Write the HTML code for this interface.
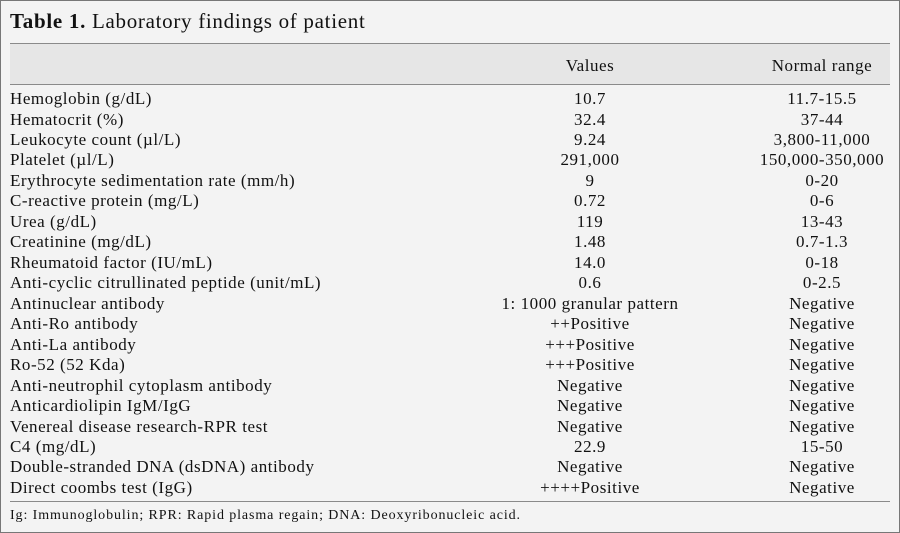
<!DOCTYPE html>
<html><head><style>
body{margin:0;width:900px;height:533px;background:#f3f3f3;font-family:"Liberation Serif",serif;color:#111;position:relative;overflow:hidden}
.frame{position:absolute;left:0;top:0;width:898px;height:531px;border:1px solid #777;}
.t{position:absolute;left:10px;top:9px;font-size:21px;letter-spacing:0.7px}
.band{position:absolute;left:10px;width:880px;top:43px;height:40px;background:#e6e6e6;border-top:1.5px solid #8a8a8a;border-bottom:1.5px solid #8a8a8a}
.hl{position:absolute;left:10px;width:880px;top:501px;border-top:1.5px solid #8a8a8a}
.r{position:absolute;left:10px;width:880px;height:20.47px;font-size:17px;letter-spacing:0.55px;line-height:20.47px;white-space:nowrap}
.r span{position:absolute}
.a{left:0}
.b{left:430px;width:300px;text-align:center}
.c{left:662px;width:300px;text-align:center}
.f{position:absolute;left:10px;top:508px;font-size:14px;letter-spacing:0.9px}
</style></head><body>
<div class="frame"></div>
<div class="t"><b>Table 1.</b> Laboratory findings of patient</div>
<div class="band"></div>
<div class="r" style="top:56px"><span class="b">Values</span><span class="c">Normal range</span></div>
<div class="r" style="top:89px"><span class="a">Hemoglobin (g/dL)</span><span class="b">10.7</span><span class="c">11.7-15.5</span></div>
<div class="r" style="top:109.5px"><span class="a">Hematocrit (%)</span><span class="b">32.4</span><span class="c">37-44</span></div>
<div class="r" style="top:130px"><span class="a">Leukocyte count (µl/L)</span><span class="b">9.24</span><span class="c">3,800-11,000</span></div>
<div class="r" style="top:150.4px"><span class="a">Platelet (µl/L)</span><span class="b">291,000</span><span class="c">150,000-350,000</span></div>
<div class="r" style="top:170.9px"><span class="a">Erythrocyte sedimentation rate (mm/h)</span><span class="b">9</span><span class="c">0-20</span></div>
<div class="r" style="top:191.4px"><span class="a">C-reactive protein (mg/L)</span><span class="b">0.72</span><span class="c">0-6</span></div>
<div class="r" style="top:211.8px"><span class="a">Urea (g/dL)</span><span class="b">119</span><span class="c">13-43</span></div>
<div class="r" style="top:232.3px"><span class="a">Creatinine (mg/dL)</span><span class="b">1.48</span><span class="c">0.7-1.3</span></div>
<div class="r" style="top:252.8px"><span class="a">Rheumatoid factor (IU/mL)</span><span class="b">14.0</span><span class="c">0-18</span></div>
<div class="r" style="top:273.2px"><span class="a">Anti-cyclic citrullinated peptide (unit/mL)</span><span class="b">0.6</span><span class="c">0-2.5</span></div>
<div class="r" style="top:293.7px"><span class="a">Antinuclear antibody</span><span class="b">1: 1000 granular pattern</span><span class="c">Negative</span></div>
<div class="r" style="top:314.2px"><span class="a">Anti-Ro antibody</span><span class="b">++Positive</span><span class="c">Negative</span></div>
<div class="r" style="top:334.6px"><span class="a">Anti-La antibody</span><span class="b">+++Positive</span><span class="c">Negative</span></div>
<div class="r" style="top:355.1px"><span class="a">Ro-52 (52 Kda)</span><span class="b">+++Positive</span><span class="c">Negative</span></div>
<div class="r" style="top:375.6px"><span class="a">Anti-neutrophil cytoplasm antibody</span><span class="b">Negative</span><span class="c">Negative</span></div>
<div class="r" style="top:396px"><span class="a">Anticardiolipin IgM/IgG</span><span class="b">Negative</span><span class="c">Negative</span></div>
<div class="r" style="top:416.5px"><span class="a">Venereal disease research-RPR test</span><span class="b">Negative</span><span class="c">Negative</span></div>
<div class="r" style="top:437px"><span class="a">C4 (mg/dL)</span><span class="b">22.9</span><span class="c">15-50</span></div>
<div class="r" style="top:457.4px"><span class="a">Double-stranded DNA (dsDNA) antibody</span><span class="b">Negative</span><span class="c">Negative</span></div>
<div class="r" style="top:477.9px"><span class="a">Direct coombs test (IgG)</span><span class="b">++++Positive</span><span class="c">Negative</span></div>
<div class="hl"></div>
<div class="f">Ig: Immunoglobulin; RPR: Rapid plasma regain; DNA: Deoxyribonucleic acid.</div>
</body></html>
